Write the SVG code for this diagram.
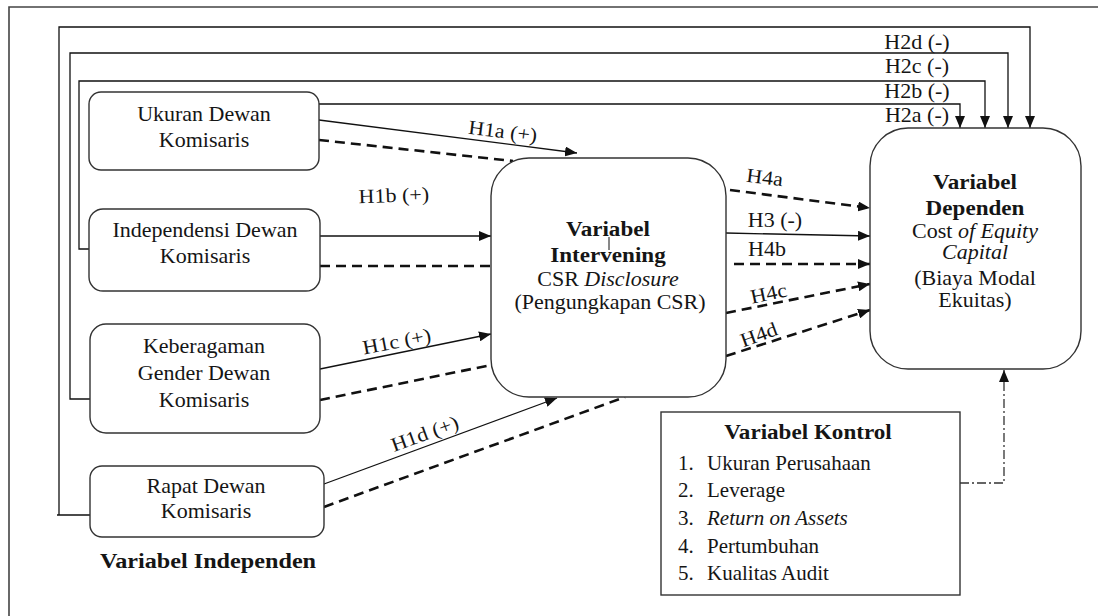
<svg xmlns="http://www.w3.org/2000/svg" width="1107" height="616" viewBox="0 0 1107 616">
<style>
.box{fill:#fff;stroke:#333;stroke-width:1.4}
.t{font-family:"Liberation Serif","Times New Roman",serif;font-size:20px;fill:#151515;text-anchor:middle}
.s{text-anchor:start}
.b{font-weight:bold;font-size:21px}
.i{font-style:italic}
.ln{fill:none;stroke:#111;stroke-width:1.3}
.dash{fill:none;stroke:#111;stroke-width:2.6;stroke-dasharray:10 6}
.dd{fill:none;stroke:#333;stroke-width:1.3;stroke-dasharray:9 3 2 3}
</style>
<defs>
<marker id="ah" viewBox="0 0 12 10" refX="12" refY="5" markerWidth="12" markerHeight="10" markerUnits="userSpaceOnUse" orient="auto">
<path d="M0,0 L12,5 L0,10 z" fill="#111"/>
</marker>
</defs>
<rect width="1107" height="616" fill="#fff"/>
<path d="M9,616 V7 H1098" fill="none" stroke="#444" stroke-width="1.6"/>

<g id="connectors">
<path class="ln" d="M319,104 H960 V128" marker-end="url(#ah)"/>
<path class="ln" d="M89,249 H79 V81 H985 V128" marker-end="url(#ah)"/>
<path class="ln" d="M90,399 H70 V53 H1008 V128" marker-end="url(#ah)"/>
<path class="ln" d="M90,515 H57 M59,515 V27 H1030 V128" marker-end="url(#ah)"/>
<line class="ln" x1="319" y1="120" x2="577" y2="153" marker-end="url(#ah)"/>
<line class="dash" x1="319" y1="140" x2="513" y2="161"/>
<line class="ln" x1="320" y1="236" x2="491" y2="236" marker-end="url(#ah)"/>
<line class="dash" x1="320" y1="266" x2="491" y2="266"/>
<line class="ln" x1="320" y1="369" x2="491" y2="334" marker-end="url(#ah)"/>
<line class="dash" x1="320" y1="400" x2="491" y2="365"/>
<line class="ln" x1="324" y1="484" x2="557" y2="398" marker-end="url(#ah)"/>
<line class="dash" x1="324" y1="507" x2="625" y2="397"/>
<line class="dash" x1="730" y1="190" x2="870" y2="208" marker-end="url(#ah)"/>
<line class="ln" x1="726" y1="233" x2="870" y2="236" marker-end="url(#ah)"/>
<line class="dash" x1="734" y1="264" x2="870" y2="264" marker-end="url(#ah)"/>
<line class="dash" x1="726" y1="313" x2="870" y2="284" marker-end="url(#ah)"/>
<line class="dash" x1="726" y1="356" x2="870" y2="310" marker-end="url(#ah)"/>
<path class="dd" d="M960,483 H1004 V370" marker-end="url(#ah)"/>
<line x1="958" y1="466" x2="958" y2="477" stroke="#111" stroke-width="2.5"/>
<g id="labels">
<text class="t" transform="matrix(1.1 0 0 1 917 49)">H2d (-)</text>
<text class="t" transform="matrix(1.1 0 0 1 917 73)">H2c (-)</text>
<text class="t" transform="matrix(1.1 0 0 1 917 98)">H2b (-)</text>
<text class="t" transform="matrix(1.1 0 0 1 917 122)">H2a (-)</text>
<text class="t" transform="translate(502,138) rotate(7) scale(1.1,1)">H1a (+)</text>
<text class="t" transform="translate(394,202) rotate(-2) scale(1.1,1)">H1b (+)</text>
<text class="t" transform="translate(398,348) rotate(-11) scale(1.1,1)">H1c (+)</text>
<text class="t" transform="translate(427,440) rotate(-20) scale(1.1,1)">H1d (+)</text>
<text class="t" transform="translate(764,184) rotate(7) scale(1.1,1)">H4a</text>
<text class="t" transform="matrix(1.1 0 0 1 775 227)">H3 (-)</text>
<text class="t" transform="matrix(1.1 0 0 1 767 256)">H4b</text>
<text class="t" transform="translate(770,300) rotate(-12) scale(1.1,1)">H4c</text>
<text class="t" transform="translate(761,341) rotate(-20) scale(1.1,1)">H4d</text>
</g>
</g>

<g id="ukuran">
<rect class="box" x="89" y="92" width="230" height="78" rx="12"/>
<text class="t" transform="matrix(1.1 0 0 1 204 121)">Ukuran Dewan</text>
<text class="t" transform="matrix(1.1 0 0 1 204 147)">Komisaris</text>
</g>
<g id="independensi">
<rect class="box" x="89" y="209" width="231" height="82" rx="14"/>
<text class="t" transform="matrix(1.1 0 0 1 205 237)">Independensi Dewan</text>
<text class="t" transform="matrix(1.1 0 0 1 205 263)">Komisaris</text>
</g>
<g id="keberagaman">
<rect class="box" x="90" y="324" width="230" height="109" rx="16"/>
<text class="t" transform="matrix(1.1 0 0 1 204 353)">Keberagaman</text>
<text class="t" transform="matrix(1.1 0 0 1 204 380)">Gender Dewan</text>
<text class="t" transform="matrix(1.1 0 0 1 204 407)">Komisaris</text>
</g>
<g id="rapat">
<rect class="box" x="90" y="466" width="234" height="71" rx="12"/>
<text class="t" transform="matrix(1.1 0 0 1 206 493)">Rapat Dewan</text>
<text class="t" transform="matrix(1.1 0 0 1 206 518)">Komisaris</text>
</g>
<g id="label-independen">
<text class="t b" style="font-size:22px" transform="matrix(1.1 0 0 1 208 568)">Variabel Independen</text>
</g>
<g id="intervening">
<rect class="box" x="491" y="158" width="235" height="239" rx="38"/>
<text class="t b" transform="matrix(1.1 0 0 1 608 236)">Variabel</text>
<text class="t b" transform="matrix(1.1 0 0 1 608 262)">Intervening</text>
<text class="t" transform="matrix(1.1 0 0 1 608 286)">CSR <tspan class="i">Disclosure</tspan></text>
<text class="t" transform="matrix(1.1 0 0 1 610 309)">(Pengungkapan CSR)</text>
<line x1="609" y1="237" x2="609" y2="250" stroke="#111" stroke-width="1"/>
</g>
<g id="dependen">
<rect class="box" x="870" y="128" width="211" height="241" rx="38"/>
<text class="t b" transform="matrix(1.1 0 0 1 975 189)">Variabel</text>
<text class="t b" transform="matrix(1.1 0 0 1 975 215)">Dependen</text>
<text class="t" transform="matrix(1.1 0 0 1 975 238)">Cost <tspan class="i">of Equity</tspan></text>
<text class="t i" transform="matrix(1.1 0 0 1 975 259)">Capital</text>
<text class="t" transform="matrix(1.1 0 0 1 975 285)">(Biaya Modal</text>
<text class="t" transform="matrix(1.1 0 0 1 975 307)">Ekuitas)</text>
</g>
<g id="kontrol">
<rect x="661" y="412" width="299" height="183" fill="#fff" stroke="#333" stroke-width="1.4"/>
<text class="t b" transform="matrix(1.1 0 0 1 808 439)">Variabel Kontrol</text>
<text class="t s" style="font-size:21px" x="678" y="470">1.</text>
<text class="t s" transform="matrix(1.05 0 0 1 707 470)">Ukuran Perusahaan</text>
<text class="t s" style="font-size:21px" x="678" y="497">2.</text>
<text class="t s" transform="matrix(1.05 0 0 1 707 497)">Leverage</text>
<text class="t s" style="font-size:21px" x="678" y="525">3.</text>
<text class="t s i" transform="matrix(1.05 0 0 1 707 525)">Return on Assets</text>
<text class="t s" style="font-size:21px" x="678" y="553">4.</text>
<text class="t s" transform="matrix(1.05 0 0 1 707 553)">Pertumbuhan</text>
<text class="t s" style="font-size:21px" x="678" y="580">5.</text>
<text class="t s" transform="matrix(1.05 0 0 1 707 580)">Kualitas Audit</text>
</g>
</svg>
